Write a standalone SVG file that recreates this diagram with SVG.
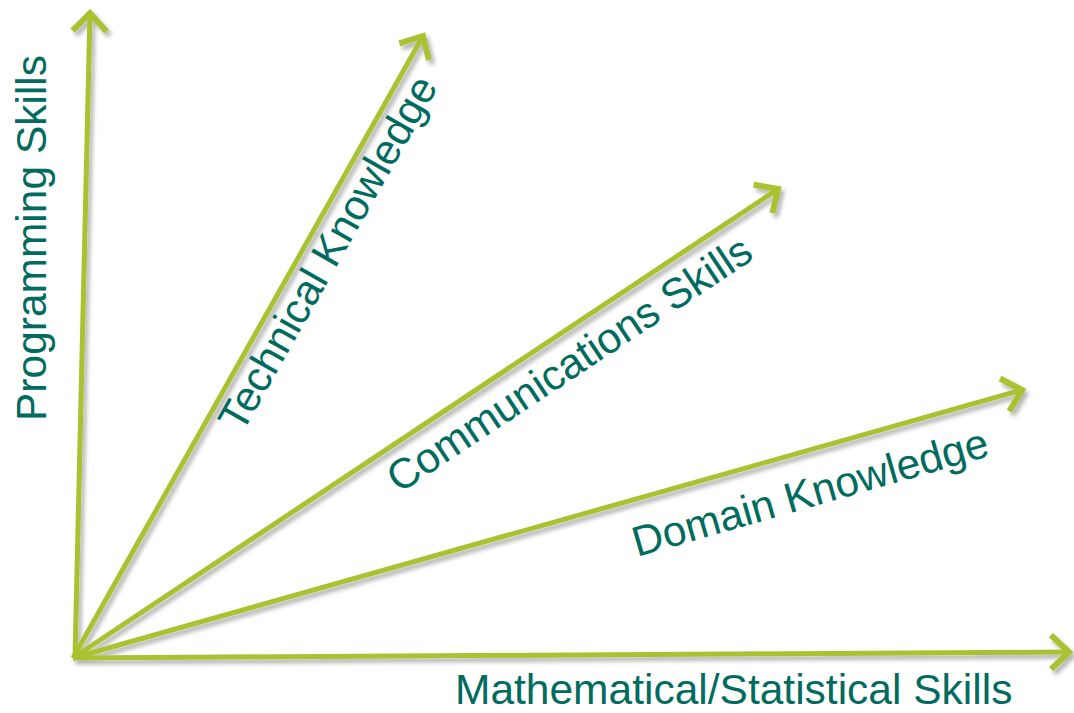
<svg xmlns="http://www.w3.org/2000/svg" width="1074" height="713" viewBox="0 0 1074 713">
<style>
.ax{stroke:#a8c233;stroke-width:5;fill:none;stroke-linecap:butt;marker-end:url(#ah)}
.lb{font-family:"Liberation Sans",Arial,sans-serif;font-size:42.5px;fill:#006b5e}
</style>
<defs>
<marker id="ah" markerUnits="userSpaceOnUse" markerWidth="40" markerHeight="40" viewBox="-30 -20 40 40" refX="0" refY="0" orient="auto" overflow="visible">
<path d="M -18 -17 L 0 0 L -18 17" fill="none" stroke="#a8c233" stroke-width="6" stroke-linejoin="miter" stroke-linecap="butt"/>
</marker>
<filter id="sh" x="-10%" y="-10%" width="120%" height="120%">
<feDropShadow dx="3" dy="4" stdDeviation="2" flood-color="#000" flood-opacity="0.3"/>
</filter>
</defs>
<rect width="1074" height="713" fill="#fff"/>
<g id="connectors" filter="url(#sh)">
<line class="ax" x1="75" y1="658" x2="90" y2="13"/>
<line class="ax" x1="73" y1="658" x2="423" y2="36"/>
<line class="ax" x1="73" y1="658" x2="778" y2="189"/>
<line class="ax" x1="73" y1="658" x2="1022" y2="390"/>
<line class="ax" x1="73" y1="658" x2="1069" y2="652"/>
</g>
<g id="programming"><text class="lb" transform="translate(46,421) rotate(-90)">Programming Skills</text></g>
<g id="technical"><text class="lb" transform="translate(242,434) rotate(-60.5)">Technical Knowledge</text></g>
<g id="communications"><text class="lb" transform="translate(399,494) rotate(-33.5)">Communications Skills</text></g>
<g id="domain"><text class="lb" transform="translate(637,557) rotate(-16)">Domain Knowledge</text></g>
<g id="math"><text class="lb" transform="translate(455,704)">Mathematical/Statistical Skills</text></g>
</svg>
